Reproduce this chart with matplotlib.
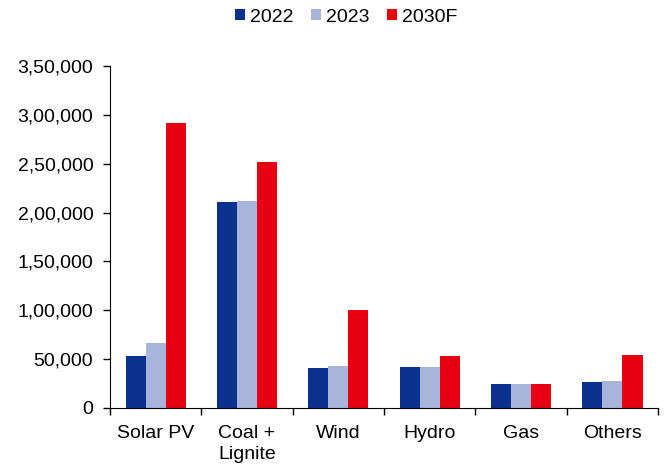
import numpy as np
import matplotlib.pyplot as plt
from matplotlib.ticker import FuncFormatter

plt.rcParams['font.family'] = ['Liberation Sans', 'DejaVu Sans']

categories = ['Solar PV', 'Coal +\nLignite', 'Wind', 'Hydro', 'Gas', 'Others']
series_names = ['2022', '2023', '2030F']
values_2022 = [53500, 210500, 40500, 41800, 24800, 26800]
values_2023 = [66500, 211500, 42500, 41800, 24800, 27800]
values_2030 = [292000, 252000, 100000, 53500, 24800, 54500]
colors = ['#0B318F', '#A8B4DA', '#E60012']


def indian_format(v, pos=None):
    # lakh-style grouping: 3,50,000
    v = int(round(v))
    s = str(v)
    if len(s) <= 3:
        return s
    head, tail = s[:-3], s[-3:]
    groups = []
    while len(head) > 2:
        groups.insert(0, head[-2:])
        head = head[:-2]
    if head:
        groups.insert(0, head)
    return ','.join(groups) + ',' + tail


fig = plt.figure(figsize=(6.69, 4.65), dpi=100)
ax = fig.add_axes([0.1644, 0.1226, 0.8192, 0.7354])

x = np.arange(len(categories))
width = 0.22
for i, (name, vals) in enumerate(zip(series_names, [values_2022, values_2023, values_2030])):
    ax.bar(x + (i - 1) * width, vals, width, color=colors[i], label=name)

ax.set_xlim(-0.5, len(categories) - 0.5)
ax.set_ylim(0, 350000)
ax.set_yticks(np.arange(0, 350001, 50000))
ax.yaxis.set_major_formatter(FuncFormatter(indian_format))

ax.set_xticks(x)
ax.set_xticklabels(categories, linespacing=1.3)
ax.set_xticks(np.arange(-0.5, len(categories)), minor=True)
ax.tick_params(axis='x', which='major', length=0, pad=12, labelsize=14)
ax.tick_params(axis='x', which='minor', length=5, direction='out', width=1)
ax.tick_params(axis='y', length=5, direction='out', width=1, labelsize=14, pad=7)

for side in ['top', 'right']:
    ax.spines[side].set_visible(False)

fig.legend(loc='center', bbox_to_anchor=(346 / 669, 1 - 17 / 465), ncol=3, frameon=False,
           fontsize=14, handlelength=0.5, handleheight=0.55, handletextpad=0.27,
           columnspacing=0.9)

plt.savefig('out.png', dpi=100)
